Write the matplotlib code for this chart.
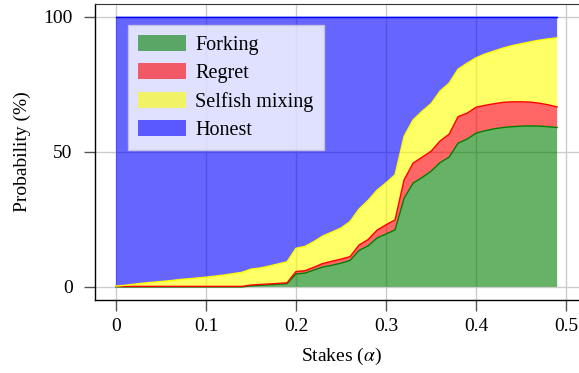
import numpy as np
import matplotlib
matplotlib.use("Agg")
import matplotlib.pyplot as plt

plt.rcParams['font.family'] = ['Liberation Serif', 'DejaVu Serif']
plt.rcParams['mathtext.fontset'] = 'stix'

# Stake fraction alpha
stakes = [round(0.01 * i, 2) for i in range(50)]

# Probability (%) of each strategy at every stake value
forking = [0.0, 0.0, 0.0, 0.0, 0.0, 0.0, 0.0, 0.0, 0.0, 0.0,
           0.0, 0.0, 0.0, 0.0, 0.0, 0.4, 0.6, 0.8, 1.0, 1.2,
           4.8, 5.1, 6.3, 7.4, 8.0, 8.8, 9.8, 13.5, 15.2, 18.1,
           19.6, 21.1, 32.8, 38.4, 40.5, 42.8, 46.0, 48.0, 53.2, 54.7,
           56.9, 57.8, 58.5, 59.0, 59.3, 59.5, 59.6, 59.5, 59.3, 59.0]
regret = [0.2, 0.2, 0.2, 0.2, 0.2, 0.2, 0.2, 0.2, 0.2, 0.2,
          0.2, 0.2, 0.2, 0.2, 0.2, 0.3, 0.3, 0.3, 0.3, 0.3,
          0.9, 0.9, 1.0, 1.3, 1.5, 1.5, 1.4, 2.0, 2.3, 2.9,
          3.4, 3.7, 6.8, 7.4, 7.5, 7.4, 8.0, 8.5, 9.8, 9.6,
          9.6, 9.4, 9.3, 9.3, 9.2, 9.0, 8.8, 8.5, 8.1, 7.6]
selfish_mixing = [0.1, 0.4, 0.8, 1.2, 1.5, 1.8, 2.1, 2.5, 2.8, 3.1,
                  3.4, 3.8, 4.2, 4.7, 5.2, 5.9, 6.1, 6.6, 7.2, 7.8,
                  8.6, 9.0, 9.5, 10.2, 10.8, 11.5, 13.0, 13.3, 14.5, 14.8,
                  15.5, 16.7, 16.1, 16.0, 17.0, 17.6, 18.5, 18.9, 17.6, 18.5,
                  18.3, 19.0, 19.5, 20.1, 20.8, 21.5, 22.3, 23.3, 24.4, 25.6]
honest = [99.7, 99.4, 99.0, 98.6, 98.3, 98.0, 97.7, 97.3, 97.0, 96.7,
          96.4, 96.0, 95.6, 95.1, 94.6, 93.4, 93.0, 92.3, 91.5, 90.7,
          85.7, 85.0, 83.2, 81.1, 79.7, 78.2, 75.8, 71.2, 68.0, 64.2,
          61.5, 58.5, 44.3, 38.2, 35.0, 32.2, 27.5, 24.6, 19.4, 17.2,
          15.2, 13.8, 12.7, 11.6, 10.7, 10.0, 9.3, 8.7, 8.2, 7.8]

labels = ["Forking", "Regret", "Selfish mixing", "Honest"]
colors = ["#008000", "#ff0000", "#ffff00", "#0000ff"]

x_ticks = [0, 0.1, 0.2, 0.3, 0.4, 0.5]
x_tick_labels = ["0", "0.1", "0.2", "0.3", "0.4", "0.5"]
y_ticks = [0, 50, 100]

fig = plt.figure(figsize=(5.79, 3.73), dpi=100)
ax = fig.add_axes([0.164, 0.196, 0.85, 0.794])

series = [forking, regret, selfish_mixing, honest]
x = np.array(stakes)
tops = np.cumsum(np.array(series), axis=0)

ax.stackplot(x, *series, colors=colors, alpha=0.6, labels=labels,
             linewidth=0, zorder=2)
for top, c in zip(tops, colors):
    ax.plot(x, top, color=c, lw=1.0, zorder=3)

ax.set_xlim(-0.0233, 0.5233)
ax.set_ylim(-4.8, 104.8)
ax.set_xticks(x_ticks)
ax.set_xticklabels(x_tick_labels)
ax.set_yticks(y_ticks)
ax.grid(True, color="#cccccc", lw=1.0, zorder=0)
ax.set_axisbelow(True)

ax.tick_params(axis='both', direction='out', length=8, width=1.0,
               color='#555555', labelsize=14)
ax.tick_params(axis='x', pad=5)
ax.tick_params(axis='y', pad=8)
for side in ['left', 'bottom']:
    ax.spines[side].set_color('black')
    ax.spines[side].set_linewidth(1.0)
ax.spines['top'].set_color('#333333')
ax.spines['right'].set_color('#333333')

ax.set_xlabel("Stakes ($\\alpha$)", fontsize=14, labelpad=8)
ax.set_ylabel("Probability (%)", fontsize=14, labelpad=9)

leg = ax.legend(loc='upper left', bbox_to_anchor=(0.067, 0.929),
                borderaxespad=0, fontsize=14.5, fancybox=False,
                framealpha=0.8, facecolor='white', edgecolor='#c8c8d8',
                handlelength=2.4, handleheight=0.85, labelspacing=0.42,
                borderpad=0.5, handletextpad=0.45)
leg.get_frame().set_linewidth(1.0)

fig.savefig("out.png", dpi=100)
